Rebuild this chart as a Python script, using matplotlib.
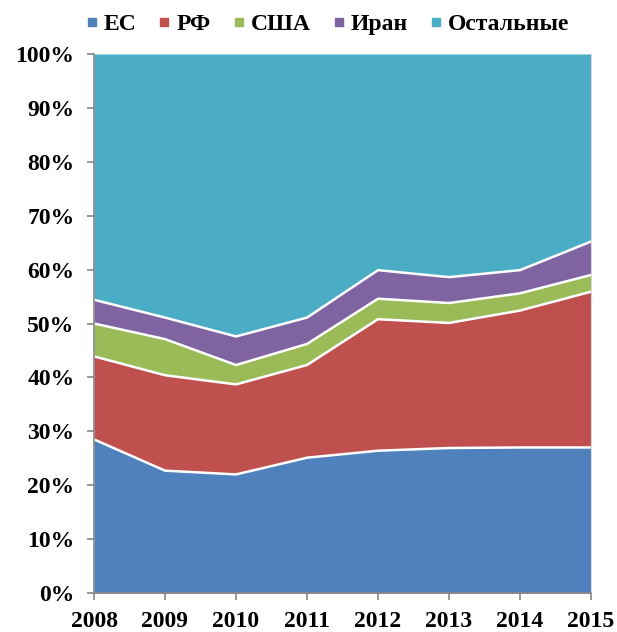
import numpy as np
import matplotlib.pyplot as plt
from matplotlib.lines import Line2D
from matplotlib.ticker import FuncFormatter

plt.rcParams['font.family'] = ['Liberation Serif', 'DejaVu Serif']
plt.rcParams['font.weight'] = 'bold'

years = [2008, 2009, 2010, 2011, 2012, 2013, 2014, 2015]
names = ['ЕС', 'РФ', 'США', 'Иран', 'Остальные']
colors = ['#4F81BD', '#C0504D', '#9BBB59', '#8064A2', '#4BACC6']

# shares, %
eu = [28.5, 22.7, 22.0, 25.1, 26.4, 26.9, 27.0, 27.0]
rf = [15.4, 17.7, 16.7, 17.2, 24.4, 23.2, 25.4, 28.9]
usa = [6.1, 6.7, 3.6, 3.9, 3.8, 3.7, 3.2, 3.1]
iran = [4.4, 4.0, 5.3, 4.9, 5.3, 4.8, 4.3, 6.2]
rest = [45.6, 48.9, 52.4, 48.9, 40.1, 41.4, 40.1, 34.8]

series = np.array([eu, rf, usa, iran, rest])
tops = np.cumsum(series, axis=0)
bottoms = np.vstack([np.zeros(len(years)), tops[:-1]])

fig = plt.figure(figsize=(6.17, 6.32), dpi=100)
ax = fig.add_axes([94 / 617, 1 - 593 / 632, 497 / 617, 539 / 632])

for lo, hi, c in zip(bottoms, tops, colors):
    ax.fill_between(years, lo, hi, color=c, linewidth=0)
for hi in tops[:-1]:
    ax.plot(years, hi, color='white', linewidth=1.8)

ax.set_xlim(years[0], years[-1])
ax.set_ylim(0, 100)
ax.set_xticks(years)
ax.set_yticks(np.arange(0, 101, 10))
ax.yaxis.set_major_formatter(FuncFormatter(lambda v, p: f'{v:.0f}%'))
ax.tick_params(axis='both', labelsize=17, color='#868686', length=5, width=1.2)
ax.tick_params(axis='y', pad=9)
ax.tick_params(axis='x', pad=8)

for s in ['left', 'bottom']:
    ax.spines[s].set_color('#868686')
    ax.spines[s].set_linewidth(1.2)
ax.spines['top'].set_visible(False)
ax.spines['right'].set_color('#D9D9D9')

handles = [Line2D([], [], marker='s', linestyle='', markersize=5.5,
                  markerfacecolor=c, markeredgecolor=c) for c in colors]
fig.legend(handles, names, loc='center', bbox_to_anchor=(0.528, 1 - 24 / 632),
           ncol=5, frameon=False, fontsize=17, handletextpad=0.1,
           columnspacing=0.8, handlelength=0.8)

fig.savefig('out.png', dpi=100)
